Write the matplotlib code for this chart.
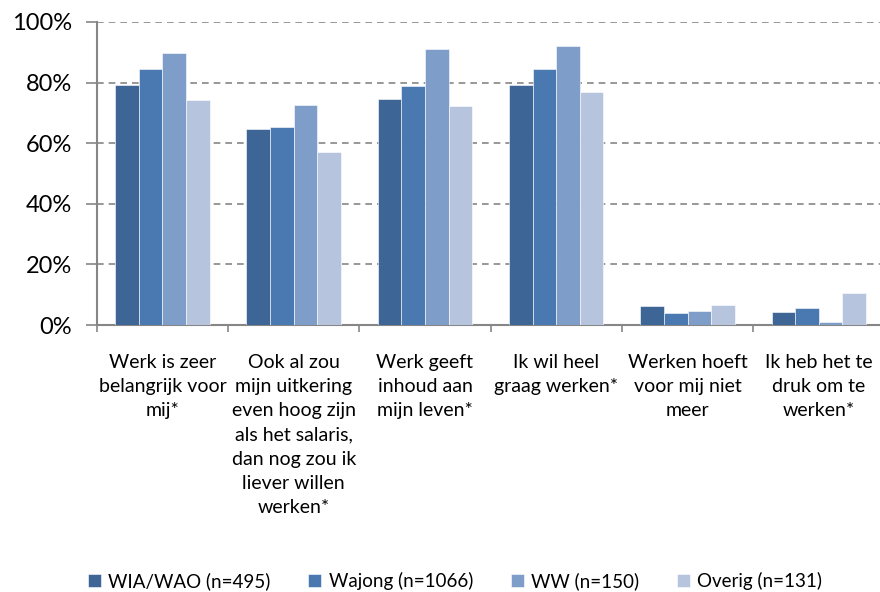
import matplotlib.pyplot as plt
import numpy as np
from matplotlib.ticker import PercentFormatter

# data
categorieen = [
    "Werk is zeer\nbelangrijk voor\nmij*",
    "Ook al zou\nmijn uitkering\neven hoog zijn\nals het salaris,\ndan nog zou ik\nliever willen\nwerken*",
    "Werk geeft\ninhoud aan\nmijn leven*",
    "Ik wil heel\ngraag werken*",
    "Werken hoeft\nvoor mij niet\nmeer",
    "Ik heb het te\ndruk om te\nwerken*",
]
reeksen = ["WIA/WAO (n=495)", "Wajong (n=1066)", "WW (n=150)", "Overig (n=131)"]
wia_wao = [79.1, 64.8, 74.5, 79.1, 6.2, 4.3]
wajong = [84.4, 65.4, 78.9, 84.3, 3.8, 5.5]
ww = [89.9, 72.5, 91.2, 91.9, 4.5, 1.1]
overig = [74.1, 57.1, 72.4, 76.8, 6.6, 10.5]

kleuren = ["#3D6596", "#4A78B0", "#7F9DC9", "#B6C4DE"]

plt.rcParams['font.family'] = ['Lato', 'DejaVu Sans']

fig = plt.figure(figsize=(8.8, 5.92), dpi=100)
ax = fig.add_axes([0.110, 0.451, 0.895, 0.512])

x = np.arange(len(categorieen))
breedte = 0.18
for i, (waarden, naam) in enumerate(zip([wia_wao, wajong, ww, overig], reeksen)):
    ax.bar(x + (i - 1.5) * breedte, waarden, breedte, color=kleuren[i],
           edgecolor="white", linewidth=0.4, label=naam, zorder=3)

ax.set_xlim(-0.5, len(categorieen) - 0.5)
ax.set_ylim(0, 100)
ax.set_yticks(range(0, 101, 20))
ax.yaxis.set_major_formatter(PercentFormatter(decimals=0))
ax.grid(axis="y", color="#868686", linestyle=(0, (4, 3)), linewidth=1.2, zorder=0)

ax.set_xticks(np.arange(-0.5, len(categorieen), 1))
ax.set_xticklabels([])
ax.tick_params(axis="x", length=5, width=1.2, color="#868686")
ax.tick_params(axis="y", length=8, width=1.2, color="#868686", labelsize=17, pad=10)

for spine in ["top", "right"]:
    ax.spines[spine].set_visible(False)
for spine in ["left", "bottom"]:
    ax.spines[spine].set_color("#868686")
    ax.spines[spine].set_linewidth(1.5)

for xi, label in zip(x, categorieen):
    ax.text(xi, -9.5, label, ha="center", va="top", fontsize=14, linespacing=1.52)

fig.legend(loc="center", bbox_to_anchor=(455 / 880, 1 - 581 / 592), ncol=4,
           frameon=False, fontsize=13.5, handlelength=0.7, handleheight=0.7,
           handletextpad=0.4, columnspacing=2.0)

fig.savefig("out.png", dpi=100)
